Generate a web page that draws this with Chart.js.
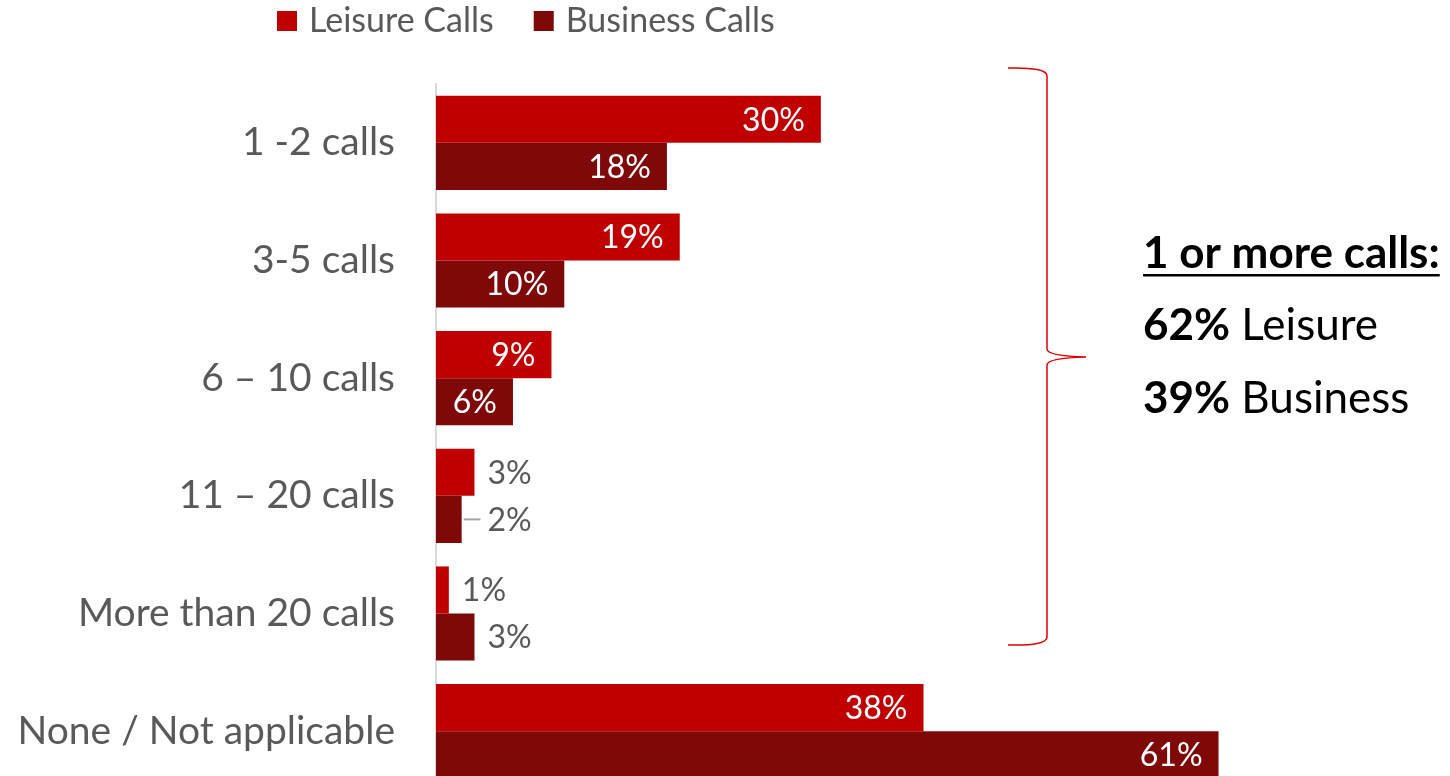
<!DOCTYPE html>
<html>
<head>
<meta charset="utf-8">
<script src="https://cdn.jsdelivr.net/npm/chart.js@4.4.1/dist/chart.umd.min.js"></script>
<style>
  html, body { margin: 0; padding: 0; background: #ffffff; overflow: hidden; }
  canvas { display: block; }
</style>
</head>
<body>
<canvas id="chart" width="1450" height="790"></canvas>
<script>
// Number of calls made, share of respondents
const categories = ['1 -2 calls', '3-5 calls', '6 – 10 calls', '11 – 20 calls', 'More than 20 calls', 'None / Not applicable'];
const leisureCalls = [30, 19, 9, 3, 1, 38];
const businessCalls = [18, 10, 6, 2, 3, 61];
const seriesNames = ['Leisure Calls', 'Business Calls'];

// Summary panel text
const summaryTitle = '1 or more calls:';
const summaryLines = [['62%', ' Leisure'], ['39%', ' Business']];

const FONT = 'Lato, "Open Sans", sans-serif';
const GREY_TEXT = '#595959';
const COLORS = ['#C00000', '#7F0808'];

// Value labels: inside the bar end for long bars, outside for short ones
const valueLabels = {
  id: 'valueLabels',
  afterDatasetsDraw(chart) {
    const ctx = chart.ctx;
    ctx.save();
    ctx.font = '32px ' + FONT;
    ctx.textBaseline = 'middle';
    const outsideX = {};
    chart.data.datasets.forEach((ds, di) => {
      const meta = chart.getDatasetMeta(di);
      meta.data.forEach((bar, i) => {
        const v = ds.data[i];
        const txt = v + '%';
        if (v >= 5) {
          ctx.fillStyle = '#ffffff';
          ctx.textAlign = 'right';
          ctx.fillText(txt, bar.x - 16, bar.y + 1);
        } else {
          let x = bar.x + 13;
          const prev = outsideX[i];
          if (prev !== undefined && x < prev) {
            // align with the label above and draw a leader line to the bar
            ctx.strokeStyle = '#A6A6A6';
            ctx.lineWidth = 2;
            ctx.beginPath();
            ctx.moveTo(bar.x + 2, bar.y);
            ctx.lineTo(prev - 7, bar.y);
            ctx.stroke();
            x = prev;
          }
          outsideX[i] = x;
          ctx.fillStyle = GREY_TEXT;
          ctx.textAlign = 'left';
          ctx.fillText(txt, x, bar.y + 1);
        }
      });
    });
    ctx.restore();
  }
};

// Legend row, bracket and summary text
const decorations = {
  id: 'decorations',
  afterDraw(chart) {
    const ctx = chart.ctx;
    ctx.save();

    // legend
    ctx.font = '34px ' + FONT;
    ctx.textBaseline = 'middle';
    ctx.textAlign = 'left';
    let lx = 277;
    chart.data.datasets.forEach((ds) => {
      ctx.fillStyle = ds.backgroundColor;
      ctx.fillRect(lx, 11, 20, 20);
      ctx.fillStyle = GREY_TEXT;
      ctx.fillText(ds.label, lx + 32, 21);
      lx += 32 + ctx.measureText(ds.label).width + 40;
    });

    // curly bracket
    ctx.strokeStyle = '#E00000';
    ctx.lineWidth = 1.5;
    ctx.beginPath();
    ctx.moveTo(1008, 68);
    ctx.quadraticCurveTo(1047, 67, 1047, 76);
    ctx.lineTo(1047, 349);
    ctx.quadraticCurveTo(1047, 356, 1086, 357);
    ctx.quadraticCurveTo(1047, 358, 1047, 365);
    ctx.lineTo(1047, 637);
    ctx.quadraticCurveTo(1047, 646, 1008, 645);
    ctx.stroke();

    // summary text
    ctx.fillStyle = '#000000';
    ctx.textBaseline = 'alphabetic';
    ctx.font = 'bold 44px ' + FONT;
    ctx.fillText(summaryTitle, 1143, 268);
    const tw = ctx.measureText(summaryTitle).width;
    ctx.fillRect(1143, 274, tw, 2.5);
    summaryLines.forEach((parts, k) => {
      const y = 340 + k * 73;
      ctx.font = 'bold 44px ' + FONT;
      ctx.fillText(parts[0], 1143, y);
      const w = ctx.measureText(parts[0]).width;
      ctx.font = '44px ' + FONT;
      ctx.fillText(parts[1], 1143 + w, y);
    });
    ctx.restore();
  }
};

new Chart(document.getElementById('chart'), {
  type: 'bar',
  data: {
    labels: categories,
    datasets: [
      { label: seriesNames[0], data: leisureCalls, backgroundColor: COLORS[0] },
      { label: seriesNames[1], data: businessCalls, backgroundColor: COLORS[1] }
    ]
  },
  options: {
    indexAxis: 'y',
    responsive: false,
    animation: false,
    layout: { padding: { top: 84, right: 116, bottom: 0, left: 0 } },
    datasets: { bar: { categoryPercentage: 0.8, barPercentage: 1.0 } },
    plugins: { legend: { display: false }, tooltip: { enabled: false } },
    scales: {
      x: { display: false, min: 0, max: 70 },
      y: {
        grid: { display: false },
        border: { display: true, color: '#D9D9D9', width: 2 },
        ticks: { color: GREY_TEXT, font: { family: FONT, size: 39 }, padding: 33 },
        afterFit(scale) {
          scale.width = 436;
          // the category band runs to the bottom edge of the canvas
          scale.paddingTop = 0;
          scale.paddingBottom = 0;
        }
      }
    }
  },
  plugins: [valueLabels, decorations]
});
</script>
</body>
</html>
